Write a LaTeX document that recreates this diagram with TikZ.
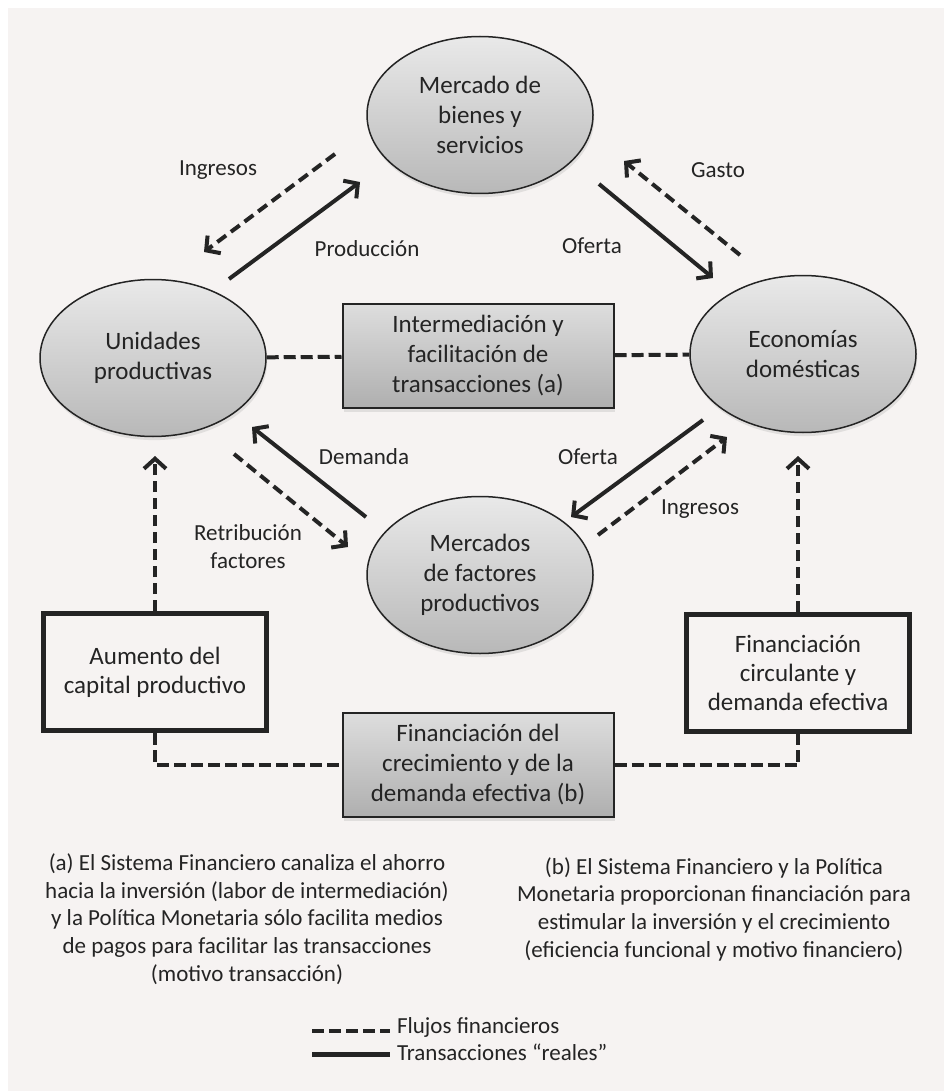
\documentclass[tikz,border=0pt]{standalone}
\usepackage{fontspec}
\setmainfont{Carlito}
\usetikzlibrary{arrows.meta,shapes.geometric,shadows}
\definecolor{panel}{HTML}{F6F3F2}
\definecolor{ink}{HTML}{242424}
\definecolor{claro}{HTML}{E9E9E9}
\definecolor{oscuro}{HTML}{B8B8B8}

\begin{document}
\begin{tikzpicture}[x=0.5pt,y=-0.5pt,>={Straight Barb[length=5pt,width=11pt]},color=ink,
  sombra/.style={drop shadow={opacity=0.18,shadow xshift=0.6pt,shadow yshift=-1.8pt}},
  mercado/.style={ellipse,draw,line width=0.75pt,top color=claro,bottom color=oscuro,sombra,minimum width=113pt,minimum height=78.5pt,inner sep=0pt,align=center,font=\fontsize{12.5}{15}\selectfont},
  medio/.style={rectangle,draw,line width=1pt,top color=claro!95!black,bottom color=oscuro!95!black,sombra,minimum width=135.5pt,minimum height=52pt,inner sep=0pt,align=center,font=\fontsize{12.5}{15}\selectfont},
  caja/.style={rectangle,draw,line width=2.5pt,fill=panel,minimum width=111.5pt,minimum height=58.5pt,inner sep=0pt,align=center,font=\fontsize{12.5}{14.5}\selectfont},
  etiqueta/.style={align=center,font=\fontsize{11.5}{14}\selectfont},
  nota/.style={align=center,font=\fontsize{11.5}{13.85}\selectfont},
  real/.style={->,line width=2pt},
  flujo/.style={->,line width=2pt,dash pattern=on 5.5pt off 3pt},
  enlace/.style={line width=2pt,dash pattern=on 6pt off 2.5pt}]

  \fill[white] (0,0) rectangle (944,1091);
  \fill[panel] (8,8) rectangle (944,1091);
  \useasboundingbox (0,0) rectangle (944,1091);

  \node[mercado] (1) at (480,115) {Mercado de\\bienes y\\servicios};
  \node[mercado] (2) at (153,358) {Unidades\\productivas};
  \node[mercado] (3) at (803,354) {Economías\\domésticas};
  \node[mercado] (4) at (480,575) {Mercados\\de factores\\productivos};
  \node[medio] (5) at (478,356) {Intermediación y\\facilitación de\\transacciones (a)};
  \node[medio] (6) at (478,765) {Financiación del\\crecimiento y de la\\demanda efectiva (b)};
  \node[caja] (7) at (155,672) {Aumento del\\capital productivo};
  \node[caja] (8) at (798,673) {Financiación\\circulante y\\demanda efectiva};

  \node[etiqueta] (ing1) at (218,170) {Ingresos};
  \node[etiqueta] (prod) at (367,249) {Producción};
  \node[etiqueta] (gasto) at (718,170) {Gasto};
  \node[etiqueta] (of1) at (592,246) {Oferta};
  \node[etiqueta] (dem) at (364,457) {Demanda};
  \node[etiqueta] (of2) at (588,457) {Oferta};
  \node[etiqueta] (ret) at (248,547) {Retribución\\factores};
  \node[etiqueta] (ing2) at (700,509) {Ingresos};

  \coordinate (1a) at (335,154); \coordinate (1b) at (204,252);
  \coordinate (2a) at (229,279); \coordinate (2b) at (360,182);
  \coordinate (3a) at (740,255); \coordinate (3b) at (624,161);
  \coordinate (4a) at (599,184); \coordinate (4b) at (713,278);
  \coordinate (5a) at (366,517); \coordinate (5b) at (252,427);
  \coordinate (6a) at (234,454); \coordinate (6b) at (348,547);
  \coordinate (7a) at (703,420); \coordinate (7b) at (571,517);
  \coordinate (8a) at (598,535); \coordinate (8b) at (727,437);
  \coordinate (9a) at (155,456); \coordinate (9b) at (798,456);

  \draw[flujo] (1a) to (1b);
  \draw[real] (2a) to (2b);
  \draw[flujo] (3a) to (3b);
  \draw[real] (4a) to (4b);
  \draw[real] (5a) to (5b);
  \draw[flujo] (6a) to (6b);
  \draw[real] (7a) to (7b);
  \draw[flujo] (8a) to (8b);
  \draw[flujo] (7) to (9a);
  \draw[flujo] (8) to (9b);

  \draw[enlace] (2) to (5);
  \draw[enlace] (5) to (3);
  \draw[enlace] (7.south) |- (6.west);
  \draw[enlace] (6.east) -| (8.south);

  \node[nota] (na) at (247,919) {(a) El Sistema Financiero canaliza el ahorro\\hacia la inversión (labor de intermediación)\\y la Política Monetaria sólo facilita medios\\de pagos para facilitar las transacciones\\(motivo transacción)};
  \node[nota] (nb) at (714,909) {(b) El Sistema Financiero y la Política\\Monetaria proporcionan financiación para\\estimular la inversión y el crecimiento\\(eficiencia funcional y motivo financiero)};

  \node[nota,anchor=west] (leg1) at (390,1027) {Flujos financieros};
  \node[nota,anchor=west] (leg2) at (390,1052) {Transacciones “reales”};
  \coordinate (l1) at (312,1031); \coordinate (l2) at (312,1054);
  \draw[enlace] (l1) -- (l1 -| leg1.west);
  \draw[line width=2.5pt] (l2) -- (l2 -| leg2.west);
\end{tikzpicture}
\end{document}
